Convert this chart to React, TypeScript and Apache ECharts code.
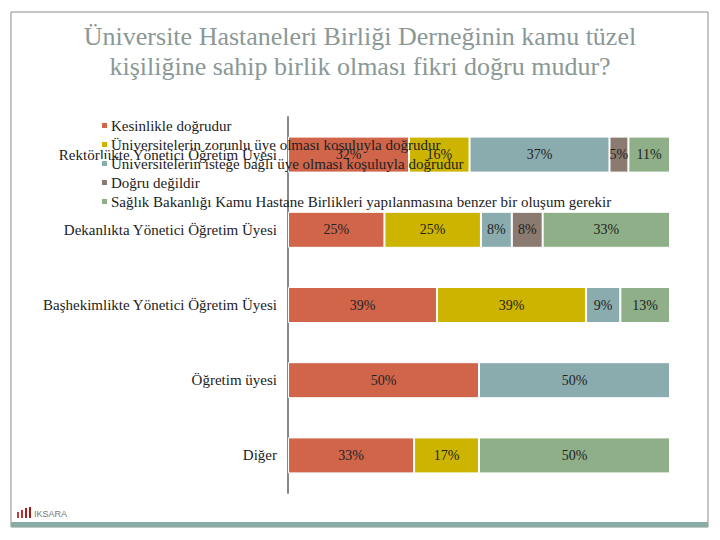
import React, { useEffect, useRef } from "react";
import * as echarts from "echarts";

const categories = [
  "Rektörlükte Yönetici Öğretim Üyesi",
  "Dekanlıkta Yönetici Öğretim Üyesi",
  "Başhekimlikte Yönetici Öğretim Üyesi",
  "Öğretim üyesi",
  "Diğer",
];

const seriesNames = [
  "Kesinlikle doğrudur",
  "Üniversitelerin zorunlu üye olması koşuluyla doğrudur",
  "Üniversitelerin isteğe bağlı üye olması koşuluyla doğrudur",
  "Doğru değildir",
  "Sağlık Bakanlığı Kamu Hastane Birlikleri yapılanmasına benzer bir oluşum gerekir",
];

// percentages shown on the chart, per series (one value per category)
const kesinlikle = [32, 25, 39, 50, 33];
const zorunlu = [16, 25, 39, 0, 17];
const istege = [37, 8, 9, 50, 0];
const degil = [5, 8, 0, 0, 0];
const saglik = [11, 33, 13, 0, 50];

const colors = ["#D0654A", "#CDB400", "#8BACAE", "#8B7A70", "#8FAF88"];

const FONT = "Liberation Serif";

export default function App() {
  const ref = useRef<HTMLDivElement>(null);
  useEffect(() => {
    if (!ref.current) return;
    const chart = echarts.init(ref.current, undefined, { renderer: "svg" });
    const all = [kesinlikle, zorunlu, istege, degil, saglik];
    const sums = categories.map((_, i) => all.reduce((s, arr) => s + arr[i], 0));
    const series = all.map((arr, si) => ({
      name: seriesNames[si],
      type: "bar",
      stack: "total",
      barWidth: 36,
      itemStyle: { color: colors[si], borderColor: "#ffffff", borderWidth: 1 },
      label: {
        show: true,
        position: "inside",
        fontFamily: FONT,
        fontSize: 14,
        color: "#222",
        formatter: (p: any) => {
          const v = arr[p.dataIndex];
          return v > 0 ? v + "%" : "";
        },
      },
      data: arr.map((v, i) => (v > 0 ? (v / sums[i]) * 100 : 0)),
    }));
    chart.setOption({
      animation: false,
      color: colors,
      textStyle: { fontFamily: FONT },
      title: {
        text: "Üniversite Hastaneleri Birliği Derneğinin kamu tüzel\nkişiliğine sahip birlik olması fikri doğru mudur?",
        left: "center",
        top: 16,
        textStyle: {
          fontFamily: FONT,
          fontSize: 26,
          fontWeight: "normal",
          color: "#8A9896",
          lineHeight: 30,
        },
      },
      legend: {
        orient: "vertical",
        left: 100,
        top: 118,
        padding: 0,
        itemWidth: 7,
        itemHeight: 7,
        itemGap: 4,
        icon: "rect",
        data: seriesNames,
        textStyle: {
          fontFamily: FONT,
          fontSize: 15,
          color: "#222",
          lineHeight: 15,
          padding: [0, 0, 0, -2],
        },
      },
      grid: { left: 288, right: 50, top: 117, height: 376, containLabel: false },
      xAxis: {
        type: "value",
        min: 0,
        max: 100,
        show: false,
      },
      yAxis: {
        type: "category",
        inverse: true,
        data: categories,
        axisLine: { show: true, lineStyle: { color: "#888888", width: 2 } },
        axisTick: { show: false },
        axisLabel: {
          fontFamily: FONT,
          fontSize: 15,
          color: "#222",
          margin: 11,
        },
      },
      series,
      graphic: [
        {
          type: "rect",
          shape: { x: 11, y: 12, width: 697, height: 515 },
          style: { fill: "none", stroke: "#8A8F8D", lineWidth: 1 },
          z: 0,
        },
        {
          type: "rect",
          shape: { x: 11, y: 522, width: 697, height: 5 },
          style: { fill: "#8AACA7" },
        },
        {
          type: "group",
          left: 17,
          top: 507,
          children: [
            { type: "rect", shape: { x: 0, y: 5, width: 2, height: 6 }, style: { fill: "#C04040" } },
            { type: "rect", shape: { x: 4, y: 3, width: 2, height: 8 }, style: { fill: "#B83030" } },
            { type: "rect", shape: { x: 8, y: 1, width: 2, height: 10 }, style: { fill: "#B02020" } },
            { type: "rect", shape: { x: 12, y: 0, width: 2, height: 11 }, style: { fill: "#A01818" } },
            {
              type: "text",
              x: 17,
              y: 2,
              style: { text: "IKSARA", fontSize: 9, fill: "#777", fontFamily: "sans-serif" },
            },
          ],
        },
      ],
    });
    return () => chart.dispose();
  }, []);
  return (
    <div
      ref={ref}
      style={{ position: "fixed", left: 0, top: 0, width: 720, height: 540, background: "#fff" }}
    />
  );
}
